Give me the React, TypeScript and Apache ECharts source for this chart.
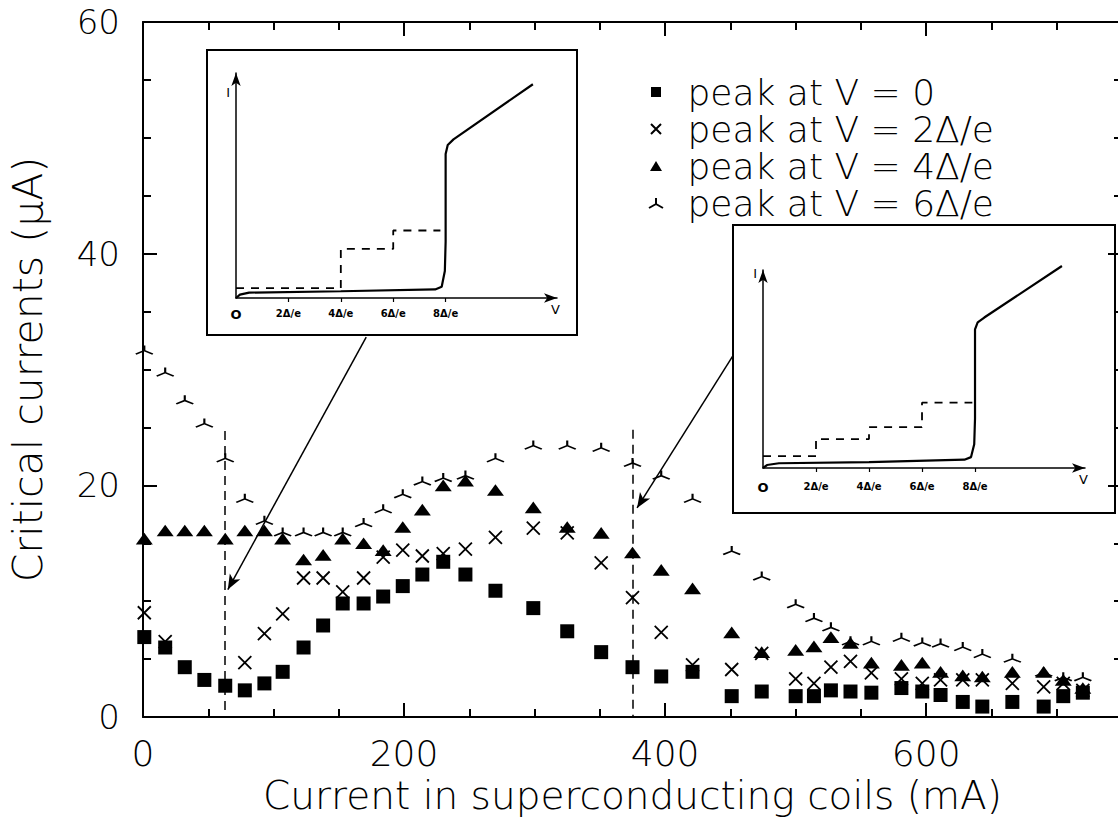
import React, { useEffect, useRef } from "react";
import * as echarts from "echarts";

// ---- main data ----
const coilCurrent = [1, 17, 32, 47, 63, 78, 93, 107, 123, 138, 153, 169, 184, 199, 214, 230, 247, 270, 299, 325, 351, 375, 397, 421, 451, 474, 500, 514, 527, 542, 558, 581, 597, 611, 628, 643, 666, 690, 705, 720];
const peakV0 = [6.9, 6.0, 4.3, 3.2, 2.7, 2.3, 2.9, 3.9, 6.0, 7.9, 9.8, 9.8, 10.4, 11.3, 12.3, 13.4, 12.3, 10.9, 9.4, 7.4, 5.6, 4.3, 3.5, 3.9, 1.8, 2.2, 1.8, 1.8, 2.3, 2.2, 2.1, 2.5, 2.2, 1.9, 1.3, 0.9, 1.3, 0.9, 1.8, 2.1];
const peakV2 = [9.0, 6.5, null, null, null, 4.7, 7.2, 8.9, 12.0, 12.0, 10.8, 12.0, 13.8, 14.4, 13.9, 14.1, 14.5, 15.5, 16.3, 15.9, 13.3, 10.3, 7.3, 4.5, 4.1, 5.5, 3.3, 2.9, 4.3, 4.8, 3.8, 3.3, 2.9, 3.2, 3.2, 3.2, 2.9, 2.6, 2.9, 2.3];
const peakV4 = [15.4, 16.1, 16.1, 16.1, 15.4, 16.1, 16.1, 15.4, 13.6, 14.0, 15.4, 15.0, 14.4, 16.4, 17.9, 20.0, 20.4, 19.6, 18.1, 16.4, 15.9, 14.2, 12.7, 11.1, 7.3, 5.6, 5.8, 6.1, 6.9, 6.4, 4.7, 4.5, 4.7, 3.9, 3.6, 3.5, 3.9, 3.9, 3.2, 2.5];
const peakV6 = [31.7, 29.8, 27.4, 25.4, 22.4, 18.9, 17.0, 16.0, 16.0, 16.0, 16.0, 16.8, 18.0, 19.3, 20.4, 20.7, 20.9, 22.4, 23.5, 23.5, 23.3, 22.0, 20.9, 18.9, 14.4, 12.2, 9.8, 8.6, 7.8, 6.6, 6.6, 6.9, 6.5, 6.4, 6.1, 5.5, 5.1, 3.9, 3.5, 3.5];
const seriesNames = ["peak at V = 0", "peak at V = 2Δ/e", "peak at V = 4Δ/e", "peak at V = 6Δ/e"];

// vertical dashed guides and arrows (data coordinates)
const guideLines = [[[63, 24.7], [63, 0]], [[375, 24.8], [375, 0]]];
const arrowSegments = [[[171, 32.8], [65, 11.0]], [[452, 31.2], [378.5, 18.05]]];

// ---- axis ticks ----
const xMajorTicks = [200, 400, 600];
const insetTickValues = [2, 4, 6, 8];
const insetLabelValues = [0, 2, 4, 6, 8];

// ---- inset I-V curves (V in units of Δ/e, I arbitrary) ----
const insetASolid = [[0, 0], [0.15, 0.15], [0.5, 0.24], [4, 0.3], [7.6, 0.38], [7.85, 0.5], [7.97, 1.2], [8.0, 2.5], [8.0, 6.4], [8.08, 6.8], [8.3, 7.05], [11.33, 9.5]];
const insetADashed = [[0, 0.44], [4, 0.44], [4, 2.18], [6, 2.18], [6, 3.0], [7.8, 3.0]];
const insetBSolid = [[0, 0], [0.15, 0.15], [0.6, 0.24], [4, 0.3], [7.6, 0.42], [7.85, 0.55], [7.97, 1.2], [8.0, 2.5], [8.0, 7.0], [8.1, 7.35], [8.35, 7.6], [11.28, 10.2]];
const insetBDashed = [[0, 0.6], [2, 0.6], [2, 1.46], [4, 1.46], [4, 2.06], [6, 2.06], [6, 3.3], [7.9, 3.3]];

const FONT = '"DejaVu Sans", sans-serif';
const FW = 200;

const SQUARE = "path://M0,0L10,0L10,10L0,10Z";
const CROSS = "path://M0,0L10,10M0,10L10,0";
const TRIANGLE = "path://M6,0L12,10L0,10Z";
const TRIPOD = "path://M7,0L7,6M7,6L0,10M7,6L14,10";

function pairs(values: (number | null)[]) {
  const out: number[][] = [];
  coilCurrent.forEach((x, i) => {
    const v = values[i];
    if (v !== null && v !== undefined) out.push([x, v]);
  });
  return out;
}

export default function App() {
  const ref = useRef<HTMLDivElement>(null);

  useEffect(() => {
    if (!ref.current) return;
    const chart = echarts.init(ref.current, undefined, { renderer: "svg" });

    const black = "#000";
    const mainLine = { show: true, onZero: false, lineStyle: { color: black, width: 2 } };
    const tickStyle = { color: black, width: 2 };

    const mainX = (extra: any) => ({
      type: "value",
      gridIndex: 0,
      min: 0,
      max: 750,
      splitLine: { show: false },
      ...extra,
    });

    const insetX = (grid: number, max: number, labelMargin: number) => ({
      type: "value",
      gridIndex: grid,
      min: 0,
      max,
      splitLine: { show: false },
      axisLine: { show: true, onZero: false, symbol: ["none", "arrow"], symbolSize: [7, 13], lineStyle: { color: black, width: 1.5 } },
      axisTick: { show: true, customValues: insetTickValues, length: 4, lineStyle: { color: black, width: 1.2 } },
      axisLabel: {
        show: true,
        customValues: insetLabelValues,
        margin: labelMargin,
        color: black,
        fontFamily: FONT,
        fontSize: 10,
        fontWeight: "bold",
        formatter: (v: number) => (v === 0 ? "{o|O}" : `${v}Δ/e`),
        rich: { o: { fontSize: 13, fontFamily: FONT, color: black } },
      },
      name: "V",
      nameLocation: "end",
      nameGap: -6,
      nameTextStyle: { fontSize: 13, fontFamily: FONT, color: black, align: "left", verticalAlign: "top", padding: [5, 0, 0, 0] },
    });

    const insetY = (grid: number, nameGap: number) => ({
      type: "value",
      gridIndex: grid,
      min: 0,
      max: 10,
      splitLine: { show: false },
      axisLine: { show: true, onZero: false, symbol: ["none", "arrow"], symbolSize: [7, 13], lineStyle: { color: black, width: 1.5 } },
      axisTick: { show: false },
      axisLabel: { show: false },
      name: "I",
      nameLocation: "end",
      nameGap,
      nameTextStyle: { fontSize: 13, fontFamily: FONT, color: black, align: "right", verticalAlign: "middle", padding: [0, 6, 0, 0] },
    });

    const insetLine = (x: number, y: number, data: number[][], dashed: boolean) => ({
      type: "line",
      xAxisIndex: x,
      yAxisIndex: y,
      data,
      symbol: "none",
      showSymbol: false,
      clip: false,
      silent: true,
      lineStyle: { color: black, width: dashed ? 1.8 : 2.2, type: dashed ? [8, 7] : "solid" },
    });

    chart.setOption({
      animation: false,
      backgroundColor: "#fff",
      textStyle: { fontFamily: FONT, color: black },
      grid: [
        { left: 143, top: 22, width: 979, height: 695, containLabel: false, outerBoundsMode: "none" },
        { left: 236, top: 73, width: 321, height: 225, containLabel: false, outerBoundsMode: "none" },
        { left: 763, top: 270, width: 322, height: 198, containLabel: false, outerBoundsMode: "none" },
      ],
      legend: {
        data: seriesNames,
        orient: "vertical",
        left: 643,
        top: 69,
        itemWidth: 53,
        itemHeight: 10,
        itemGap: 1,
        symbolKeepAspect: true,
        selectedMode: false,
        textStyle: { fontSize: 36, fontFamily: FONT, fontWeight: FW, color: black },
      },
      xAxis: [
        mainX({
          position: "bottom",
          interval: 50,
          axisLine: mainLine,
          axisTick: { show: true, inside: true, length: 8, lineStyle: tickStyle },
          axisLabel: {
            show: true,
            showMaxLabel: false,
            margin: 18,
            fontSize: 36,
            fontFamily: FONT,
            fontWeight: FW,
            color: black,
            formatter: (v: number) => (v % 200 === 0 ? String(v) : ""),
          },
          name: "Current in superconducting coils (mA)",
          nameLocation: "middle",
          nameGap: 51,
          nameTextStyle: { fontSize: 39, fontFamily: FONT, fontWeight: FW, color: black },
        }),
        mainX({
          position: "bottom",
          axisLine: { show: false, onZero: false },
          axisTick: { show: true, inside: true, length: 14, customValues: xMajorTicks, lineStyle: tickStyle },
          axisLabel: { show: false },
        }),
        mainX({
          position: "top",
          interval: 50,
          axisLine: mainLine,
          axisTick: { show: true, inside: true, length: 8, lineStyle: tickStyle },
          axisLabel: { show: false },
        }),
        mainX({
          position: "top",
          axisLine: { show: false, onZero: false },
          axisTick: { show: true, inside: true, length: 14, customValues: xMajorTicks, lineStyle: tickStyle },
          axisLabel: { show: false },
        }),
        insetX(1, 12.25, 10),
        insetX(2, 12.15, 13),
      ],
      yAxis: [
        {
          type: "value",
          gridIndex: 0,
          position: "left",
          min: 0,
          max: 60,
          interval: 20,
          splitLine: { show: false },
          axisLine: mainLine,
          axisTick: { show: true, inside: true, length: 14, lineStyle: tickStyle },
          minorTick: { show: true, splitNumber: 4, length: 8, lineStyle: tickStyle },
          axisLabel: { show: true, margin: 23, fontSize: 34, fontFamily: FONT, fontWeight: FW, color: black },
          name: "Critical currents (μA)",
          nameLocation: "middle",
          nameGap: 95,
          nameTextStyle: { fontSize: 41, fontFamily: FONT, fontWeight: FW, color: black },
        },
        {
          type: "value",
          gridIndex: 0,
          position: "right",
          min: 0,
          max: 60,
          interval: 20,
          splitLine: { show: false },
          axisLine: mainLine,
          axisTick: { show: true, inside: true, length: 14, lineStyle: tickStyle },
          minorTick: { show: true, splitNumber: 4, length: 8, lineStyle: tickStyle },
          axisLabel: { show: false },
        },
        insetY(1, -19),
        insetY(2, -3),
      ],
      graphic: [
        { type: "rect", silent: true, shape: { x: 207, y: 50, width: 370, height: 285 }, style: { fill: "none", stroke: black, lineWidth: 2 } },
        { type: "rect", silent: true, shape: { x: 733, y: 225, width: 382, height: 288 }, style: { fill: "none", stroke: black, lineWidth: 2 } },
      ],
      series: [
        {
          name: seriesNames[0],
          type: "scatter",
          xAxisIndex: 0,
          yAxisIndex: 0,
          data: pairs(peakV0),
          symbol: SQUARE,
          symbolSize: 14,
          symbolKeepAspect: true,
          itemStyle: { color: black, opacity: 1 },
          silent: true,
        },
        {
          name: seriesNames[1],
          type: "scatter",
          xAxisIndex: 0,
          yAxisIndex: 0,
          data: pairs(peakV2),
          symbol: CROSS,
          symbolSize: 13,
          symbolKeepAspect: true,
          itemStyle: { color: "rgba(0,0,0,0)", borderColor: black, borderWidth: 1.8, opacity: 1 },
          silent: true,
        },
        {
          name: seriesNames[2],
          type: "scatter",
          xAxisIndex: 0,
          yAxisIndex: 0,
          data: pairs(peakV4),
          symbol: TRIANGLE,
          symbolSize: [17, 14],
          symbolKeepAspect: true,
          itemStyle: { color: black, opacity: 1 },
          silent: true,
        },
        {
          name: seriesNames[3],
          type: "scatter",
          xAxisIndex: 0,
          yAxisIndex: 0,
          data: pairs(peakV6),
          symbol: TRIPOD,
          symbolSize: [17, 12],
          symbolKeepAspect: true,
          itemStyle: { color: "rgba(0,0,0,0)", borderColor: black, borderWidth: 1.8, opacity: 1 },
          silent: true,
        },
        {
          name: "guides",
          type: "line",
          xAxisIndex: 0,
          yAxisIndex: 0,
          data: [],
          silent: true,
          markLine: {
            silent: true,
            animation: false,
            symbol: ["none", "arrow"],
            symbolSize: [9, 15],
            label: { show: false },
            emphasis: { disabled: true },
            lineStyle: { color: black, width: 1.5, type: "solid", opacity: 1 },
            data: [
              ...arrowSegments.map(([a, b]) => [{ coord: a }, { coord: b }]),
              ...guideLines.map(([a, b]) => [
                { coord: a, symbol: "none", lineStyle: { color: black, width: 1.5, type: [9, 6] } },
                { coord: b, symbol: "none" },
              ]),
            ],
          },
        },
        insetLine(4, 2, insetASolid, false),
        insetLine(4, 2, insetADashed, true),
        insetLine(5, 3, insetBSolid, false),
        insetLine(5, 3, insetBDashed, true),
      ],
    });

    return () => chart.dispose();
  }, []);

  return (
    <div style={{ position: "fixed", left: 0, top: 0, width: 1118, height: 818, overflow: "hidden", background: "#fff" }}>
      <div ref={ref} style={{ width: 1130, height: 818 }} />
    </div>
  );
}
